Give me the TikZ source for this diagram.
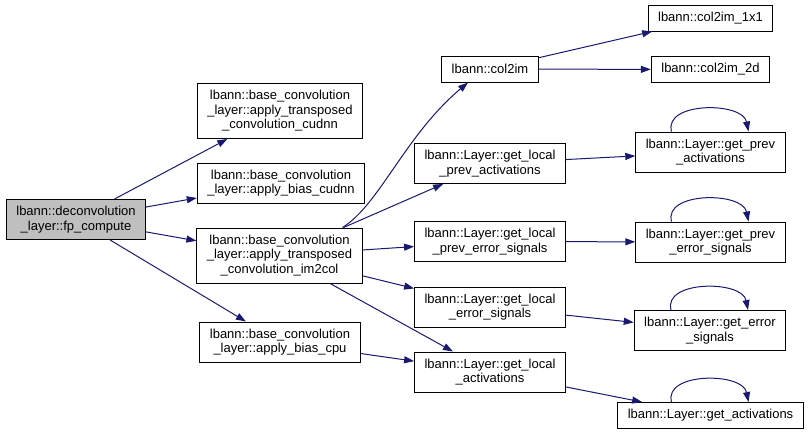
\documentclass[tikz,border=0pt]{standalone}
\usepackage{fontspec}
\setmainfont{Liberation Sans}
\usetikzlibrary{arrows.meta,calc}
\definecolor{edgeblue}{HTML}{191970}
\definecolor{focusgray}{HTML}{BFBFBF}
\tikzset{
  fn/.style={draw=black,fill=white,line width=1pt,align=center,
    font=\fontsize{13}{14.5}\selectfont,inner xsep=10pt,inner ysep=0pt},
  one/.style={minimum height=26pt},
  two/.style={minimum height=40pt},
  three/.style={minimum height=55pt},
  call/.style={edgeblue,line width=1pt,-{Triangle[length=10pt,width=7pt]}}
}
\begin{document}
\begin{tikzpicture}[x=1pt,y=-1pt]
    \useasboundingbox (0,0) rectangle (811,432);
    % caller
    \node[fn,two,fill=focusgray] (main) at (76,219.5) {lbann::deconvolution\\\_layer::fp\_compute};
    % first level
    \node[fn,three] (cudnn) at (280,111) {lbann::base\_convolution\\\_layer::apply\_transposed\\\_convolution\_cudnn};
    \node[fn,two] (biascudnn) at (281,183) {lbann::base\_convolution\\\_layer::apply\_bias\_cudnn};
    \node[fn,three] (im2col) at (279.5,255.5) {lbann::base\_convolution\\\_layer::apply\_transposed\\\_convolution\_im2col};
    \node[fn,two] (biascpu) at (280,342) {lbann::base\_convolution\\\_layer::apply\_bias\_cpu};
    % second level
    \node[fn,one] (col2im) at (490,69) {lbann::col2im};
    \node[fn,two] (localprevact) at (490,163.5) {lbann::Layer::get\_local\\\_prev\_activations};
    \node[fn,two] (localpreverr) at (490,241.5) {lbann::Layer::get\_local\\\_prev\_error\_signals};
    \node[fn,two] (localerr) at (490,307) {lbann::Layer::get\_local\\\_error\_signals};
    \node[fn,two] (localact) at (490,372) {lbann::Layer::get\_local\\\_activations};
    % third level
    \node[fn,one] (col2imone) at (710.5,18) {lbann::col2im\_1x1};
    \node[fn,one] (col2imtwo) at (710.5,69.5) {lbann::col2im\_2d};
    \node[fn,two] (prevact) at (710.5,152) {lbann::Layer::get\_prev\\\_activations};
    \node[fn,two] (preverr) at (710.5,242) {lbann::Layer::get\_prev\\\_error\_signals};
    \node[fn,two] (err) at (710,330.5) {lbann::Layer::get\_error\\\_signals};
    \node[fn,one] (act) at (710.5,415.5) {lbann::Layer::get\_activations};
    % calls
    \draw[call] (main) -- (cudnn);
    \draw[call] (main) -- (biascudnn);
    \draw[call] (main) -- (im2col);
    \draw[call] (main) -- (biascpu);
    \draw[call] ($(im2col.north)+(63,0)$) .. controls +(37,-23) and +(-63,53) .. ($(col2im.south)+(-22,0)$);
    \draw[call] (im2col) -- (localprevact);
    \draw[call] (im2col) -- (localpreverr);
    \draw[call] (im2col) -- (localerr);
    \draw[call] (im2col) -- (localact);
    \draw[call] (biascpu) -- (localact);
    \draw[call] (col2im) -- (col2imone);
    \draw[call] (col2im) -- (col2imtwo);
    \draw[call] (localprevact) -- (prevact);
    \draw[call] (localpreverr) -- (preverr);
    \draw[call] (localerr) -- (err);
    \draw[call] (localact) -- (act);
    % recursive calls
    \foreach \n in {prevact,preverr,err,act}
      \draw[call] ($(\n.north)+(-39,0)$) .. controls +(-8,-30) and +(-6,-30) .. ($(\n.north)+(38,0)$);
  \end{tikzpicture}
\end{document}
